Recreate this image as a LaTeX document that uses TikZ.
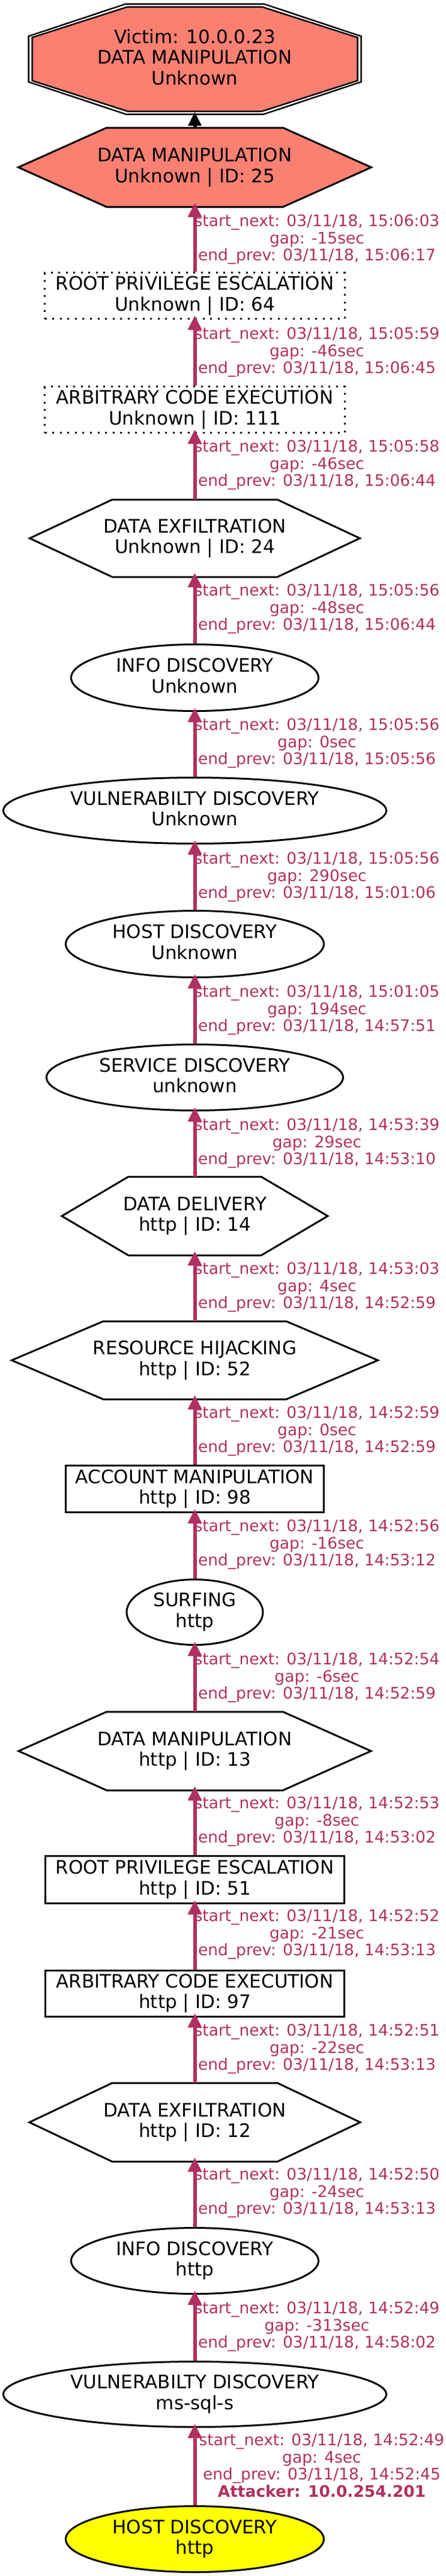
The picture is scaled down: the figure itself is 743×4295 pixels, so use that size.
\documentclass[tikz,border=0pt]{standalone}
\usepackage{fontspec}
\setmainfont{DejaVu Sans}
\usetikzlibrary{shapes.geometric,arrows.meta,calc,backgrounds}
\definecolor{salmonc}{HTML}{FA8072}
\definecolor{maroonc}{HTML}{B03060}
\definecolor{yellowc}{HTML}{FFFF00}
\newcommand\ndfont{\fontsize{31bp}{34.5bp}\selectfont}
\newcommand\lbfont{\fontsize{26.5bp}{28.8bp}\selectfont}
\newcommand\nt[2]{\rule{0pt}{26bp}#1\\#2\rule[-10bp]{0pt}{10bp}}
\newcommand\hexdraw[2]{\draw[shp, fill=#2] (#1.west) -- ($(#1.north west)!0.25!(#1.north east)$) -- ($(#1.north west)!0.75!(#1.north east)$) -- (#1.east) -- ($(#1.south west)!0.75!(#1.south east)$) -- ($(#1.south west)!0.25!(#1.south east)$) -- cycle;}
\newcommand\elab[5]{\node[lab] (#1) at (528,#2-21) {\rule{0pt}{21bp}start\_next: 03/11/18, #3\\gap: #4sec\\end\_prev: 03/11/18, #5};}
\tikzset{
  nd/.style={font=\ndfont, inner sep=0pt, align=center, line width=3bp},
  ell/.style={nd, ellipse, draw, fill=white},
  box/.style={nd, rectangle, draw, fill=white},
  dotbox/.style={nd, rectangle, draw, dash pattern=on 3bp off 9.5bp},
  hexn/.style={nd, rectangle},
  shp/.style={line width=3bp, draw=black, line join=miter},
  edge/.style={draw=maroonc, line width=6bp, -{Triangle[width=22bp,length=24bp]}, shorten >=-7bp},
  bedge/.style={draw=black, line width=6bp, -{Triangle[width=21bp,length=23bp]}, shorten >=-7bp},
  lab/.style={font=\lbfont, text=maroonc, align=center, inner sep=0pt, anchor=north},
}
\begin{document}
\begin{tikzpicture}[x=1bp,y=-1bp]
\useasboundingbox (0,0) rectangle (743,4295);
% nodes
\node[nd, rectangle, minimum width=557bp, minimum height=187bp] (victim) at (324.5,98.5)
  {\rule{0pt}{26bp}Victim: 10.0.0.23\\DATA MANIPULATION\\Unknown\rule[-10bp]{0pt}{10bp}};
\node[hexn, minimum width=585bp, minimum height=129bp] (dm25) at (324.5,279) {\nt{DATA MANIPULATION}{Unknown | ID: 25}};
\node[dotbox, minimum width=499bp, minimum height=77bp] (root64) at (324.5,493) {\nt{ROOT PRIVILEGE ESCALATION}{Unknown | ID: 64}};
\node[dotbox, minimum width=499bp, minimum height=77bp] (ace111) at (324.5,683) {\nt{ARBITRARY CODE EXECUTION}{Unknown | ID: 111}};
\node[hexn, minimum width=547bp, minimum height=126bp] (de24) at (324.5,897.5) {\nt{DATA EXFILTRATION}{Unknown | ID: 24}};
\node[ell, minimum width=412bp, minimum height=111bp] (info1) at (324.5,1130) {\nt{INFO DISCOVERY}{Unknown}};
\node[ell, minimum width=638bp, minimum height=110bp] (vuln1) at (324.5,1351.5) {\nt{VULNERABILTY DISCOVERY}{Unknown}};
\node[ell, minimum width=430bp, minimum height=111bp] (host1) at (324.5,1574) {\nt{HOST DISCOVERY}{Unknown}};
\node[ell, minimum width=494bp, minimum height=110bp] (serv) at (324.5,1796.5) {\nt{SERVICE DISCOVERY}{unknown}};
\node[hexn, minimum width=440bp, minimum height=128bp] (dd14) at (324.5,2027.5) {\nt{DATA DELIVERY}{http | ID: 14}};
\node[hexn, minimum width=607bp, minimum height=127bp] (rh52) at (324.5,2268) {\nt{RESOURCE HIJACKING}{http | ID: 52}};
\node[box, minimum width=430bp, minimum height=78bp] (acct) at (324.5,2482.5) {\nt{ACCOUNT MANIPULATION}{http | ID: 98}};
\node[ell, minimum width=227bp, minimum height=109bp] (surf) at (324.5,2688) {\nt{SURFING}{http}};
\node[hexn, minimum width=584bp, minimum height=128bp] (dm13) at (324.5,2919.5) {\nt{DATA MANIPULATION}{http | ID: 13}};
\node[box, minimum width=498bp, minimum height=79bp] (root51) at (324.5,3134) {\nt{ROOT PRIVILEGE ESCALATION}{http | ID: 51}};
\node[box, minimum width=498bp, minimum height=77bp] (ace97) at (324.5,3323.5) {\nt{ARBITRARY CODE EXECUTION}{http | ID: 97}};
\node[hexn, minimum width=548bp, minimum height=128bp] (de12) at (324.5,3538.5) {\nt{DATA EXFILTRATION}{http | ID: 12}};
\node[ell, minimum width=412bp, minimum height=110bp] (info2) at (324.5,3769.5) {\nt{INFO DISCOVERY}{http}};
\node[ell, minimum width=638bp, minimum height=109bp] (vuln2) at (324.5,3992) {\nt{VULNERABILTY DISCOVERY}{ms-sql-s}};
\node[ell, fill=yellowc, minimum width=430bp, minimum height=110bp] (host2) at (324.5,4233.5) {\nt{HOST DISCOVERY}{http}};
% shapes behind the texts
\begin{scope}[on background layer]
  \begin{scope}[shift={(victim.center)}]
    \draw[shp, line width=2.5bp, fill=white] (-277,-38.1) -- (-114.7,-92) -- (114.7,-92) -- (277,-38.1) -- (277,38.1) -- (114.7,92) -- (-114.7,92) -- (-277,38.1) -- cycle;
    \draw[shp, line width=2.5bp, fill=salmonc] (-271,-36) -- (-112.2,-87) -- (112.2,-87) -- (271,-36) -- (271,36) -- (112.2,87) -- (-112.2,87) -- (-271,36) -- cycle;
  \end{scope}
  \hexdraw{dm25}{salmonc}
  \hexdraw{de24}{white}
  \hexdraw{dd14}{white}
  \hexdraw{rh52}{white}
  \hexdraw{dm13}{white}
  \hexdraw{de12}{white}
\end{scope}
% edges
\draw[bedge] (dm25) -- (victim);
\draw[edge] (root64) -- (dm25);
\draw[edge] (ace111) -- (root64);
\draw[edge] (de24) -- (ace111);
\draw[edge] (info1) -- (de24);
\draw[edge] (vuln1) -- (info1);
\draw[edge] (host1) -- (vuln1);
\draw[edge] (serv) -- (host1);
\draw[edge] (dd14) -- (serv);
\draw[edge] (rh52) -- (dd14);
\draw[edge] (acct) -- (rh52);
\draw[edge] (surf) -- (acct);
\draw[edge] (dm13) -- (surf);
\draw[edge] (root51) -- (dm13);
\draw[edge] (ace97) -- (root51);
\draw[edge] (de12) -- (ace97);
\draw[edge] (info2) -- (de12);
\draw[edge] (vuln2) -- (info2);
\draw[edge] (host2) -- (vuln2);
% edge labels
\elab{l1}{377}{15:06:03}{-15}{15:06:17}
\elab{l2}{565}{15:05:59}{-46}{15:06:45}
\elab{l3}{753}{15:05:58}{-46}{15:06:44}
\elab{l4}{993}{15:05:56}{-48}{15:06:44}
\elab{l5}{1217}{15:05:56}{0}{15:05:56}
\elab{l6}{1440}{15:05:56}{290}{15:01:06}
\elab{l7}{1662}{15:01:05}{194}{14:57:51}
\elab{l8}{1884}{14:53:39}{29}{14:53:10}
\elab{l9}{2124}{14:53:03}{4}{14:52:59}
\elab{l10}{2364}{14:52:59}{0}{14:52:59}
\elab{l11}{2553}{14:52:56}{-16}{14:53:12}
\elab{l12}{2775}{14:52:54}{-6}{14:52:59}
\elab{l13}{3015}{14:52:53}{-8}{14:53:02}
\elab{l14}{3203}{14:52:52}{-21}{14:53:13}
\elab{l15}{3394}{14:52:51}{-22}{14:53:13}
\elab{l16}{3634}{14:52:50}{-24}{14:53:13}
\elab{l17}{3857}{14:52:49}{-313}{14:58:02}
\node[lab] (l18) at (536,4077-21) {\rule{0pt}{21bp}start\_next: 03/11/18, 14:52:49\\gap: 4sec\\end\_prev: 03/11/18, 14:52:45\\\textbf{Attacker: 10.0.254.201}};
\end{tikzpicture}
\end{document}
